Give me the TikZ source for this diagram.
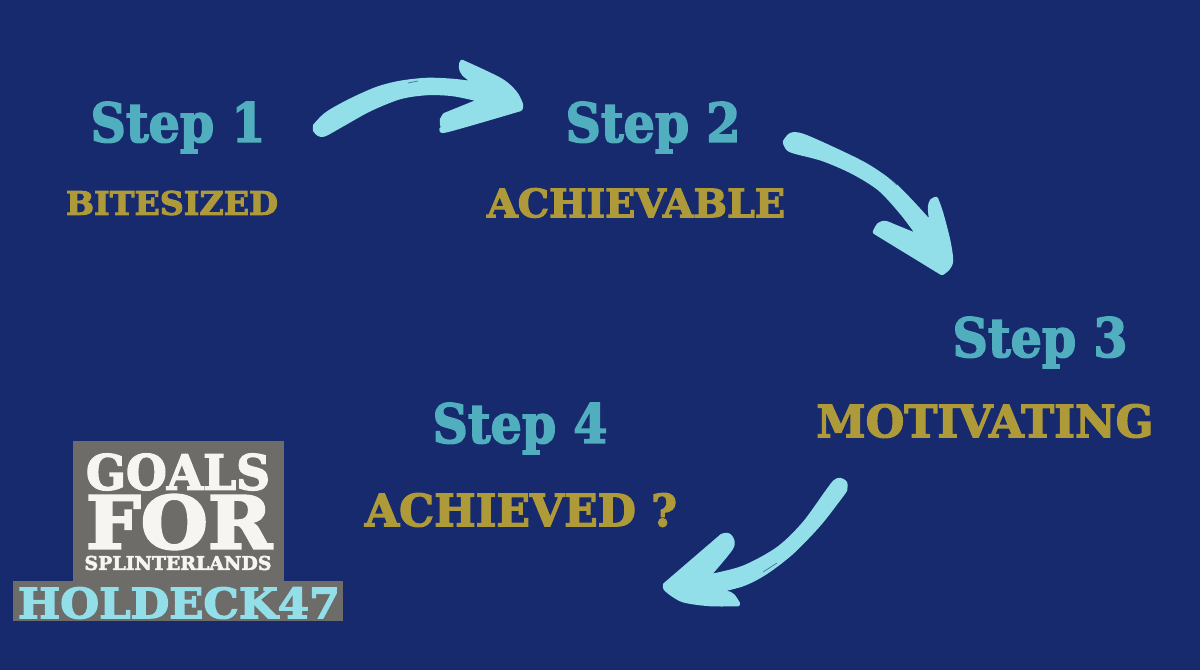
\documentclass[tikz,border=0pt]{standalone}
\usepackage{fontspec}
\setmainfont[BoldFeatures={FakeBold=3}]{DejaVu Serif}
\definecolor{bgblue}{HTML}{172A6E}
\definecolor{stepblue}{HTML}{50AEBF}
\definecolor{goldtext}{HTML}{AE9A38}
\definecolor{brushblue}{HTML}{93DFE9}
\definecolor{logogray}{HTML}{6D6C69}
\definecolor{logowhite}{HTML}{F6F5F1}
\newcommand{\fittext}[3]{\resizebox{#1pt}{#2pt}{\bfseries #3}}
\begin{document}
\begin{tikzpicture}[x=1pt,y=-1pt]
  \tikzstyle{every node}=[inner sep=0pt,outer sep=0pt]
  \tikzstyle{steplabel}=[text=stepblue]
  \tikzstyle{goallabel}=[text=goldtext]
  \tikzstyle{logolabel}=[text=logowhite]
  \tikzstyle{brush}=[fill=brushblue,draw=brushblue,line width=4.5pt,line join=round]
  \tikzstyle{scratch}=[bgblue,line width=.7pt,opacity=.6]
  \fill[bgblue](0,0) rectangle (1200,670);
  \useasboundingbox (0,0) rectangle (1200,670);
  % steps
  \node[steplabel] (step1) at (178,127.5){\fittext{175}{40}{Step 1}};
  \node[goallabel] (goal1) at (172,203){\fittext{212}{24}{BITESIZED}};
  \node[steplabel] (step2) at (653,127.5){\fittext{175}{40}{Step 2}};
  \node[goallabel] (goal2) at (636,203){\fittext{298}{29}{ACHIEVABLE}};
  \node[steplabel] (step3) at (1040,342.5){\fittext{175}{40}{Step 3}};
  \node[goallabel] (goal3) at (985,421){\fittext{337}{33}{MOTIVATING}};
  \node[steplabel] (step4) at (520,428.5){\fittext{175}{40}{Step 4}};
  \node[goallabel] (goal4) at (521,510){\fittext{312}{33}{ACHIEVED ?}};
  % arrows
  \path[brush] plot[smooth] coordinates {(315,126) (327,114) (350,101) (377,89) (400,83) (427,80) (453,81) (477,84)}
    -- plot[smooth] coordinates {(477,84) (464,74) (461,67) (462,62)}
    -- plot[smooth] coordinates {(462,62) (500,80) (515,93) (521,105) (520,109)}
    -- plot[smooth] coordinates {(520,109) (447,130) (443,127) (442,120) (445,115)}
    -- plot[smooth] coordinates {(482,100) (453,94) (427,93) (400,97) (370,109) (343,124) (325,134) (319,134) (315,130)} -- cycle;
  \path[brush] plot[smooth] coordinates {(785,142) (791,135) (803,136) (837,151) (867,166) (893,184) (913,204) (932,225)}
    -- plot[smooth] coordinates {(932,225) (930,208) (932,201) (936,199)}
    -- plot[smooth] coordinates {(936,199) (941,213) (948,240) (951,260) (948,268) (942,273)}
    -- plot[smooth] coordinates {(875,232) (879,225) (885,223) (893,226)}
    -- (920,237)
    -- plot[smooth] coordinates {(920,237) (903,214) (880,189) (853,172) (823,159) (793,151) (787,147) (785,142)} -- cycle;
  \path[brush] plot[smooth] coordinates {(845,490) (845,483) (840,480) (835,482) (828,491) (804,524) (778,549) (743,568) (707,577)}
    -- plot[smooth] coordinates {(707,577) (731,548) (731,538) (727,535) (722,536)}
    -- plot[smooth] coordinates {(665,585) (667,590) (683,600) (710,604) (738,604)}
    -- plot[smooth] coordinates {(738,604) (735,599) (730,594) (715,591)}
    -- plot[smooth] coordinates {(715,591) (743,584) (766,572) (792,552) (819,524) (840,497) (845,490)} -- cycle;
  \draw[scratch](408,83)--(418,81);
  \draw[scratch](885,174)--(897,185);
  \draw[scratch](763,572)--(777,563);
  % logo
  \fill[logogray](73,441) rectangle (284,581);
  \fill[logogray](13,581) rectangle (343,621);
  \node[logolabel] (goals) at (178,472){\fittext{184}{36}{GOALS}};
  \node[logolabel] (for) at (179,522){\fittext{186}{54}{FOR}};
  \node[logolabel] (splinter) at (178,563){\fittext{187}{14}{SPLINTERLANDS}};
  \node[text=brushblue] (holdeck) at (179,603){\fittext{322}{31}{HOLDECK47}};
\end{tikzpicture}
\end{document}
